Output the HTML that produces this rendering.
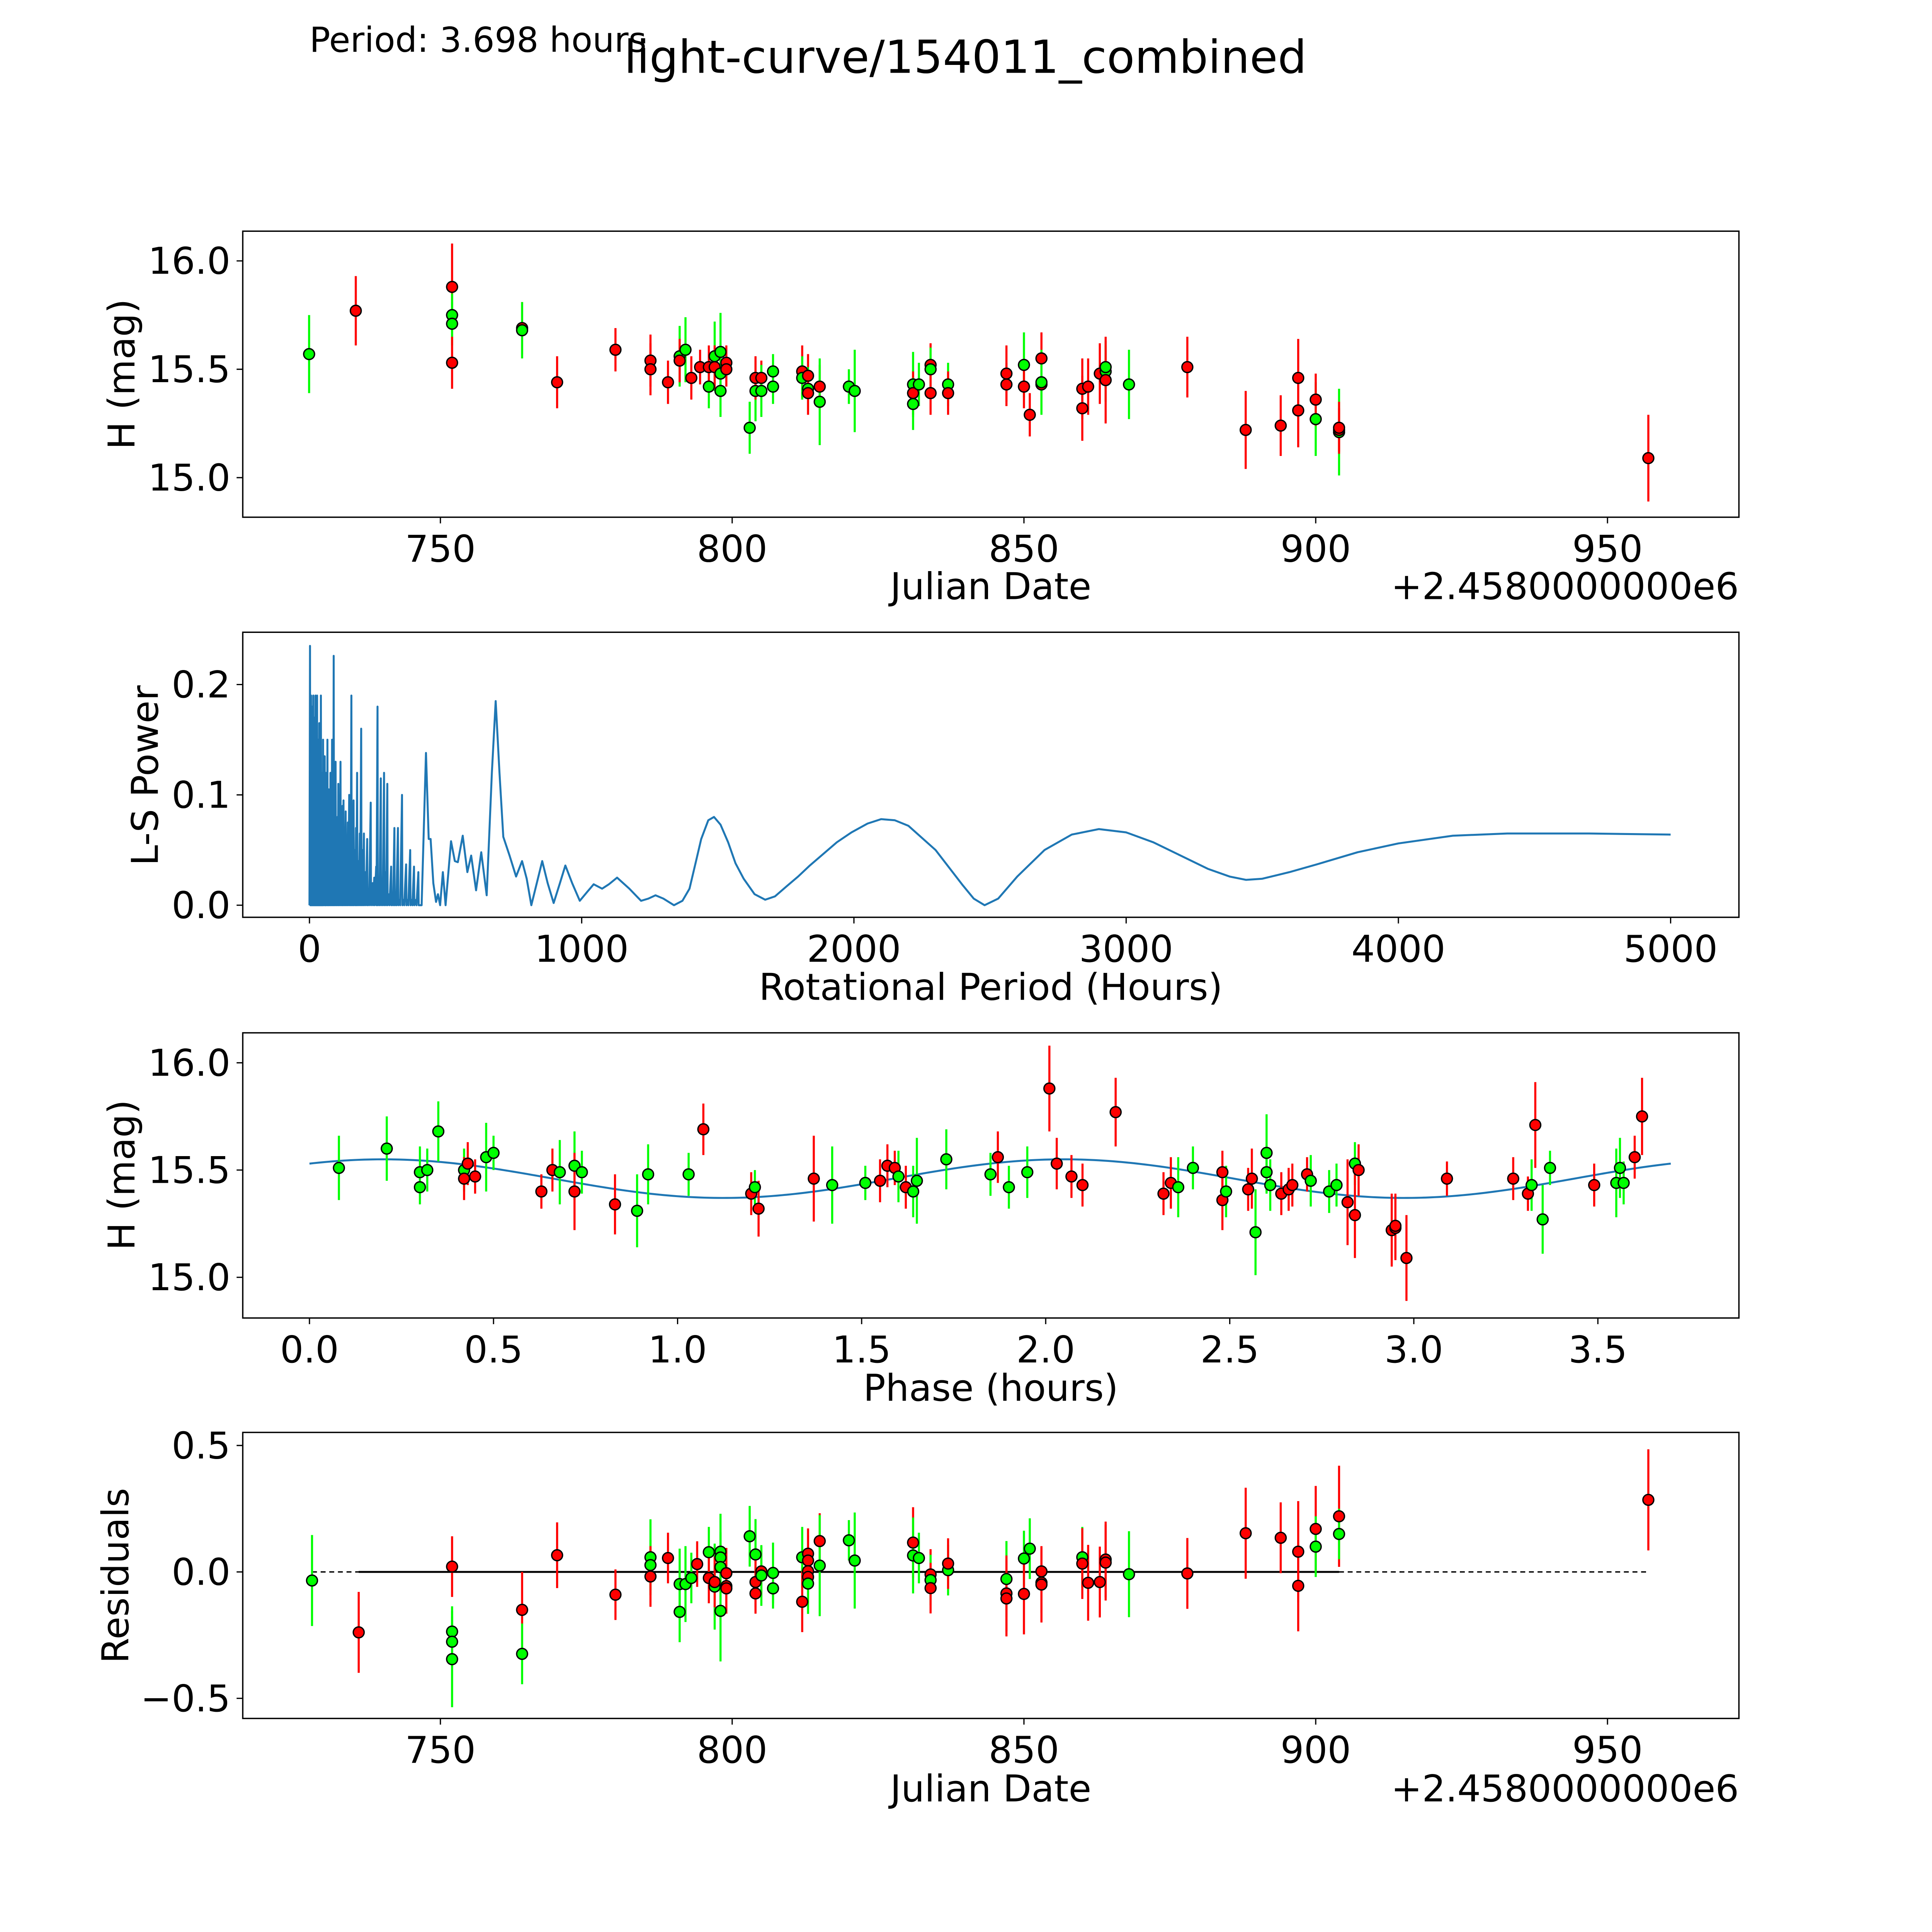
<!DOCTYPE html>
<html><head><meta charset="utf-8"><title>light-curve/154011_combined</title>
<style>html,body{margin:0;padding:0;background:#fff;overflow:hidden;width:100vw;height:100vh}svg{display:block;width:100vw;height:100vh}text{font-family:"DejaVu Sans","Liberation Sans",sans-serif;fill:#000}</style></head>
<body>
<svg id="fig" xmlns="http://www.w3.org/2000/svg" viewBox="0 0 1567 1567" preserveAspectRatio="none">
<rect x="0" y="0" width="1567" height="1567" fill="#fff"/>
<text x="251" y="42" font-size="28">Period: 3.698 hours</text>
<text x="783" y="59" font-size="37" text-anchor="middle">light-curve/154011_combined</text>
</svg>
<script>
// ---- Panel 1: photometry vs Julian date ----
const p1Dates=[727.5,735.5,752,752,752,752,764,764,770,780,786,786,789,791,791,792,793,794.5,796,796,797,797,798,798,798,799,799,803,804,804,805,805,807,807,812,812,813,813,813,815,815,820,821,831,831,831,832,834,834,834,837,837,847,847,850,850,851,853,853,853,860,860,861,863,864,864,864,868,878,888,894,897,897,900,900,904,904,904,957];
const p1Mags=[15.57,15.77,15.88,15.75,15.71,15.53,15.69,15.68,15.44,15.59,15.54,15.50,15.44,15.56,15.54,15.59,15.46,15.51,15.42,15.51,15.56,15.51,15.58,15.40,15.48,15.53,15.50,15.23,15.40,15.46,15.46,15.40,15.49,15.42,15.49,15.46,15.47,15.41,15.39,15.42,15.35,15.42,15.40,15.43,15.39,15.34,15.43,15.52,15.50,15.39,15.43,15.39,15.48,15.43,15.52,15.42,15.29,15.55,15.43,15.44,15.41,15.32,15.42,15.48,15.49,15.51,15.45,15.43,15.51,15.22,15.24,15.46,15.31,15.27,15.36,15.21,15.22,15.23,15.09];
const p1Errs=[.18,.16,.2,.1,.1,.12,.12,.13,.12,.1,.12,.12,.1,.14,.1,.15,.1,.08,.1,.1,.16,.1,.18,.12,.1,.08,.08,.12,.14,.1,.08,.12,.08,.08,.12,.1,.1,.1,.1,.1,.2,.08,.19,.15,.1,.12,.1,.1,.1,.1,.1,.1,.13,.1,.15,.1,.1,.12,.12,.15,.14,.15,.13,.14,.14,.1,.2,.16,.14,.18,.14,.18,.17,.17,.12,.2,.1,.12,.2];
const p1Colors="grrggrrgrrrrrgrgrrgrgrgggrrggrrgggrgrgrrggggrggrgrgrrrgrrrrgrrrrggrgrrrrrgrgrrr";
const p1XTicks=[750,800,850,900,950];
const p1YTicks=[15.0,15.5,16.0];
// ---- Panel 2: Lomb-Scargle periodogram ----
const lsSpikePeriods=[2,4,6,8,10,12,14,16,18,20,22,24,26,28,30,32,34,36,38,40,42,44,46,48,50,53,56,58,60,63,66,68,71,74,77,80,83,86,89,92,96,99,103,106,110,114,118,121,125,129,133,137,141,146,150,154,158,162,167,171,175,180,185,190,195,200,206,212,218,225,232,238,245,250,256,262,268,274,280,286,293,300,306,312,318,325,332,340,347,355,362,370,377,384,392,400];
const lsSpikePowers=[.235,.15,.19,.12,.18,.1,.19,.13,.17,.09,.19,.14,.12,.19,.09,.15,.11,.165,.08,.13,.19,.1,.07,.12,.15,.09,.135,.06,.12,.08,.15,.07,.105,.05,.12,.06,.15,.07,.226,.05,.13,.06,.08,.11,.07,.13,.05,.09,.095,.06,.085,.05,.075,.1,.04,.19,.06,.095,.05,.07,.12,.04,.065,.16,.05,.065,.03,.06,.015,.093,.02,.025,.035,.18,.01,.115,.02,.12,.03,.11,.01,.035,.01,.07,.005,.07,.005,.1,.005,.037,.005,.05,.005,.035,.005,.03];
const lsPeriods=[412,428,438,445,455,465,472,480,490,500,520,534,545,563,580,594,612,631,651,670,684,698,712,735,759,781,798,815,835,855,875,897,920,940,965,993,1020,1044,1075,1100,1130,1175,1218,1245,1271,1300,1339,1370,1396,1420,1439,1465,1486,1510,1538,1565,1595,1635,1674,1710,1752,1795,1838,1890,1937,1991,2050,2100,2150,2200,2300,2400,2440,2480,2530,2600,2700,2800,2900,3000,3100,3200,3300,3380,3440,3500,3600,3700,3850,4000,4200,4400,4700,5000];
const lsPowers=[0,.138,.06,.06,.02,.003,.01,0,.03,0,.058,.04,.039,.063,.03,.045,.0135,.048,.009,.12,.185,.12,.062,.045,.026,.04,.024,0,.02,.04,.02,.002,.02,.036,.02,.004,.012,.019,.015,.019,.025,.015,.004,.006,.009,.006,0,.004,.015,.04,.06,.077,.08,.073,.057,.038,.024,.01,.005,.008,.017,.026,.036,.047,.057,.066,.074,.078,.077,.072,.05,.018,.006,0,.006,.026,.05,.064,.069,.066,.057,.045,.033,.026,.023,.024,.03,.037,.048,.056,.063,.065,.065,.064];
const p2XTicks=[0,1000,2000,3000,4000,5000];
const p2YTicks=[0.0,0.1,0.2];
// ---- Panel 3: phase-folded ----
const phPhases=[.08,.21,.30,.30,.32,.35,.42,.42,.43,.45,.48,.50,.63,.66,.68,.72,.72,.74,.83,.89,.92,1.03,1.07,1.20,1.21,1.22,1.37,1.42,1.51,1.55,1.57,1.59,1.60,1.62,1.64,1.65,1.73,1.85,1.87,1.90,1.95,2.01,2.03,2.07,2.10,2.19,2.32,2.34,2.36,2.40,2.48,2.48,2.49,2.55,2.56,2.57,2.60,2.60,2.61,2.64,2.66,2.67,2.71,2.72,2.77,2.79,2.82,2.84,2.84,2.85,2.94,2.95,2.95,2.98,3.09,3.27,3.31,3.32,3.33,3.35,3.37,3.49,3.55,3.56,3.57,3.60,3.62];
const phMags=[15.51,15.60,15.49,15.42,15.50,15.68,15.50,15.46,15.53,15.47,15.56,15.58,15.40,15.50,15.49,15.52,15.40,15.49,15.34,15.31,15.48,15.48,15.69,15.39,15.42,15.32,15.46,15.43,15.44,15.45,15.52,15.51,15.47,15.42,15.40,15.45,15.55,15.48,15.56,15.42,15.49,15.88,15.53,15.47,15.43,15.77,15.39,15.44,15.42,15.51,15.49,15.36,15.40,15.41,15.46,15.21,15.58,15.49,15.43,15.39,15.41,15.43,15.48,15.45,15.40,15.43,15.35,15.53,15.29,15.50,15.22,15.23,15.24,15.09,15.46,15.46,15.39,15.43,15.71,15.27,15.51,15.43,15.44,15.51,15.44,15.56,15.75];
const phErrs=[.15,.15,.12,.08,.1,.14,.1,.1,.1,.08,.16,.08,.08,.1,.15,.16,.18,.1,.14,.17,.14,.1,.12,.1,.08,.13,.2,.18,.08,.1,.1,.08,.12,.1,.12,.2,.14,.1,.12,.1,.12,.2,.12,.1,.1,.16,.1,.12,.14,.1,.1,.14,.12,.1,.14,.2,.18,.1,.12,.1,.1,.1,.08,.12,.1,.1,.2,.1,.2,.12,.17,.15,.15,.2,.08,.1,.08,.12,.2,.16,.08,.1,.16,.14,.1,.1,.18];
const phColors="gggggggrrrggrrggrgrgggrrgrrggrrrgrggggrggrrrrrrrggrrgrrggggrrrrgggrgrrrrrrrrrgrggrgggrrrg";
const p3XTicks=[0.0,0.5,1.0,1.5,2.0,2.5,3.0,3.5];
const p3YTicks=[15.0,15.5,16.0];
const modelPeriod=3.698, modelMean=15.46, modelAmp=0.09, modelPhase0=0.2, modelCycle=1.849;
// ---- Panel 4: residuals ----
const resDates=[728,736,752,752,752,752,764,764,770,780,786,786,786,789,791,791,792,793,794,796,796,797,797,798,798,798,798,799,799,799,803,804,804,804,805,805,807,807,812,812,813,813,813,813,813,815,815,820,821,831,831,832,834,834,834,837,837,847,847,847,850,850,851,853,853,853,860,860,861,863,864,864,868,878,888,894,897,897,900,900,904,904,957];
const resVals=[-.034,-.239,.021,-.236,-.276,-.345,-.15,-.324,.066,-.09,.058,.027,-.018,.055,-.048,-.158,-.048,-.024,.031,.078,-.024,-.058,-.04,.08,.057,.019,-.154,-.005,-.056,-.065,.141,.069,-.04,-.085,.002,-.014,-.004,-.065,.058,-.118,.072,.045,.003,-.02,-.046,.122,.025,.125,.045,.116,.065,.055,-.01,-.032,-.064,.007,.033,-.028,-.085,-.105,.053,-.087,.092,.002,-.042,-.05,.058,.033,-.043,-.04,.049,.037,-.009,-.006,.153,.135,.08,-.055,.17,.10,.22,.15,.285];
const resErrs=[.18,.16,.12,.1,.1,.19,.15,.12,.13,.1,.15,.1,.12,.1,.14,.12,.15,.1,.09,.1,.1,.17,.1,.15,.1,.13,.2,.1,.1,.1,.12,.14,.1,.08,.1,.12,.12,.08,.12,.12,.1,.1,.1,.1,.12,.11,.2,.08,.19,.14,.15,.1,.1,.1,.1,.1,.1,.15,.15,.15,.11,.16,.12,.1,.12,.15,.12,.14,.15,.14,.15,.15,.17,.14,.18,.14,.2,.18,.17,.12,.2,.1,.2];
const resColors="grrgggrgrrggrrggggrgrgrggggrrrggrrrggggrrrrrgrgggrggrgrgrgrrgrgrrrgrrrrrgrrrrrrgrgrr";
const p4XTicks=[750,800,850,900,950];
const p4YTicks=[-0.5,0.0,0.5];

const NS="http://www.w3.org/2000/svg";
const svg=document.getElementById('fig');
function el(tag,attrs,parent){const e=document.createElementNS(NS,tag);for(const k in attrs)e.setAttribute(k,attrs[k]);(parent||svg).appendChild(e);return e;}
function lin(d0,d1,r0,r1){return v=>r0+(v-d0)*(r1-r0)/(d1-d0);}
const L=196.9,R=1410.4,FS=30;
function colorOf(c){return c==='g'?'#00ff00':'#ff0000';}

function frame(top,bottom,name){
  const r=el('rect',{x:L,y:top,width:R-L,height:bottom-top,fill:'none',stroke:'#000','stroke-width':1.1});
  
  
}
function xTicks(ticks,sx,bottom,fmt,name){
  ticks.forEach(t=>{
    const x=sx(t);
    const tk=el('line',{x1:x,x2:x,y1:bottom,y2:bottom+5,stroke:'#000','stroke-width':1});
    
    
    const tx=el('text',{x:x,y:bottom+36,'font-size':FS,'text-anchor':'middle'});
    tx.textContent=fmt(t);
    
    
  });
}
function yTicks(ticks,sy,fmt,name){
  ticks.forEach(t=>{
    const y=sy(t);
    const tk=el('line',{x1:L-5,x2:L,y1:y,y2:y,stroke:'#000','stroke-width':1});
    
    
    const tx=el('text',{x:L-10,y:y+10.5,'font-size':FS,'text-anchor':'end'});
    tx.textContent=fmt(t).replace('-','\u2212');
    
    
  });
}
function label(text,x,y,rot,name,anchor){
  const t=el('text',{x:x,y:y,'font-size':FS,'text-anchor':anchor||'middle'});
  if(rot)t.setAttribute('transform','rotate(-90 '+x+' '+y+')');
  t.textContent=text;
  
  
}
function errPoints(xs,ys,es,cs,sx,sy,name){
  const g=el('g',{});
  
  
  for(let i=0;i<xs.length;i++){
    const e=es[i]||0.1, c=colorOf(cs[i]||'r');
    const b=el('line',{x1:sx(xs[i]),x2:sx(xs[i]),y1:sy(ys[i]-e),y2:sy(ys[i]+e),stroke:c,'stroke-width':1.7},g);
    
    
  }
  for(let i=0;i<xs.length;i++){
    const c=colorOf(cs[i]||'r');
    const p=el('circle',{cx:sx(xs[i]),cy:sy(ys[i]),r:4.4,fill:c,stroke:'#000','stroke-width':1.1},g);
    
    
  }
}
const fmt1=v=>v.toFixed(1), fmt0=v=>String(v);

// Panel 1
{
  const top=187.5,bottom=419.5;
  const sx=lin(750,950,357.2,1303.8), sy=lin(15.0,16.0,387.4,211.6);
  frame(top,bottom,'photometry-panel');
  errPoints(p1Dates,p1Mags,p1Errs,p1Colors,sx,sy,'photometry');
  xTicks(p1XTicks,sx,bottom,fmt0,'photometry');
  yTicks(p1YTicks,sy,fmt1,'photometry');
  label('Julian Date',803.6,486,false,'photometry-x-axis-title');
  label('+2.4580000000e6',1410.4,486,false,'photometry-x-offset','end');
  label('H (mag)',109,303.5,true,'photometry-y-axis-title');
}
// Panel 2
{
  const top=512.8,bottom=744;
  const sx=lin(0,5000,251,1355), sy=lin(0,0.2,734.2,555.2);
  frame(top,bottom,'periodogram-panel');
  const pts=[];
  pts.push([0,0]);
  for(let i=0;i<lsSpikePeriods.length;i++){pts.push([lsSpikePeriods[i],lsSpikePowers[i]]);pts.push([lsSpikePeriods[i]+1.2,0]);}
  for(let i=0;i<lsPeriods.length;i++)pts.push([lsPeriods[i],lsPowers[i]]);
  const pl=el('polyline',{points:pts.map(p=>sx(p[0]).toFixed(2)+','+sy(p[1]).toFixed(2)).join(' '),fill:'none',stroke:'#1f77b4','stroke-width':1.6,'stroke-linejoin':'round'});
  
  
  xTicks(p2XTicks,sx,bottom,fmt0,'periodogram');
  yTicks(p2YTicks,sy,fmt1,'periodogram');
  label('Rotational Period (Hours)',803.6,811,false,'periodogram-x-axis-title');
  label('L-S Power',128,629,true,'periodogram-y-axis-title');
}
// Panel 3
{
  const top=837.7,bottom=1069;
  const sx=lin(0,3.5,251,1296), sy=lin(15.0,16.0,1036,862);
  frame(top,bottom,'phase-panel');
  const pts=[];
  for(let i=0;i<=300;i++){const p=modelPeriod*i/300;pts.push(sx(p).toFixed(2)+','+sy(modelMean+modelAmp*Math.cos(2*Math.PI*(p-modelPhase0)/modelCycle)).toFixed(2));}
  const m=el('polyline',{points:pts.join(' '),fill:'none',stroke:'#1f77b4','stroke-width':1.6});
  
  
  errPoints(phPhases,phMags,phErrs,phColors,sx,sy,'phase');
  xTicks(p3XTicks,sx,bottom,fmt1,'phase');
  yTicks(p3YTicks,sy,fmt1,'phase');
  label('Phase (hours)',803.6,1136,false,'phase-x-axis-title');
  label('H (mag)',109,953,true,'phase-y-axis-title');
}
// Panel 4
{
  const top=1161.8,bottom=1393.8;
  const sx=lin(750,950,357.2,1303.8), sy=lin(-0.5,0.5,1377.5,1172.4);
  frame(top,bottom,'residuals-panel');
  const d=el('line',{x1:sx(resDates[0]),x2:sx(resDates[resDates.length-1]),y1:sy(0),y2:sy(0),stroke:'#000','stroke-width':1.1,'stroke-dasharray':'4,3'});
  
  
  const s=el('line',{x1:sx(resDates[1]),x2:sx(904),y1:sy(0),y2:sy(0),stroke:'#000','stroke-width':1.6});
  
  
  errPoints(resDates,resVals,resErrs,resColors,sx,sy,'residuals');
  xTicks(p4XTicks,sx,bottom,fmt0,'residuals');
  yTicks(p4YTicks,sy,fmt1,'residuals');
  label('Julian Date',803.6,1461,false,'residuals-x-axis-title');
  label('+2.4580000000e6',1410.4,1461,false,'residuals-x-offset','end');
  label('Residuals',104,1278,true,'residuals-y-axis-title');
}
</script>
</body></html>
